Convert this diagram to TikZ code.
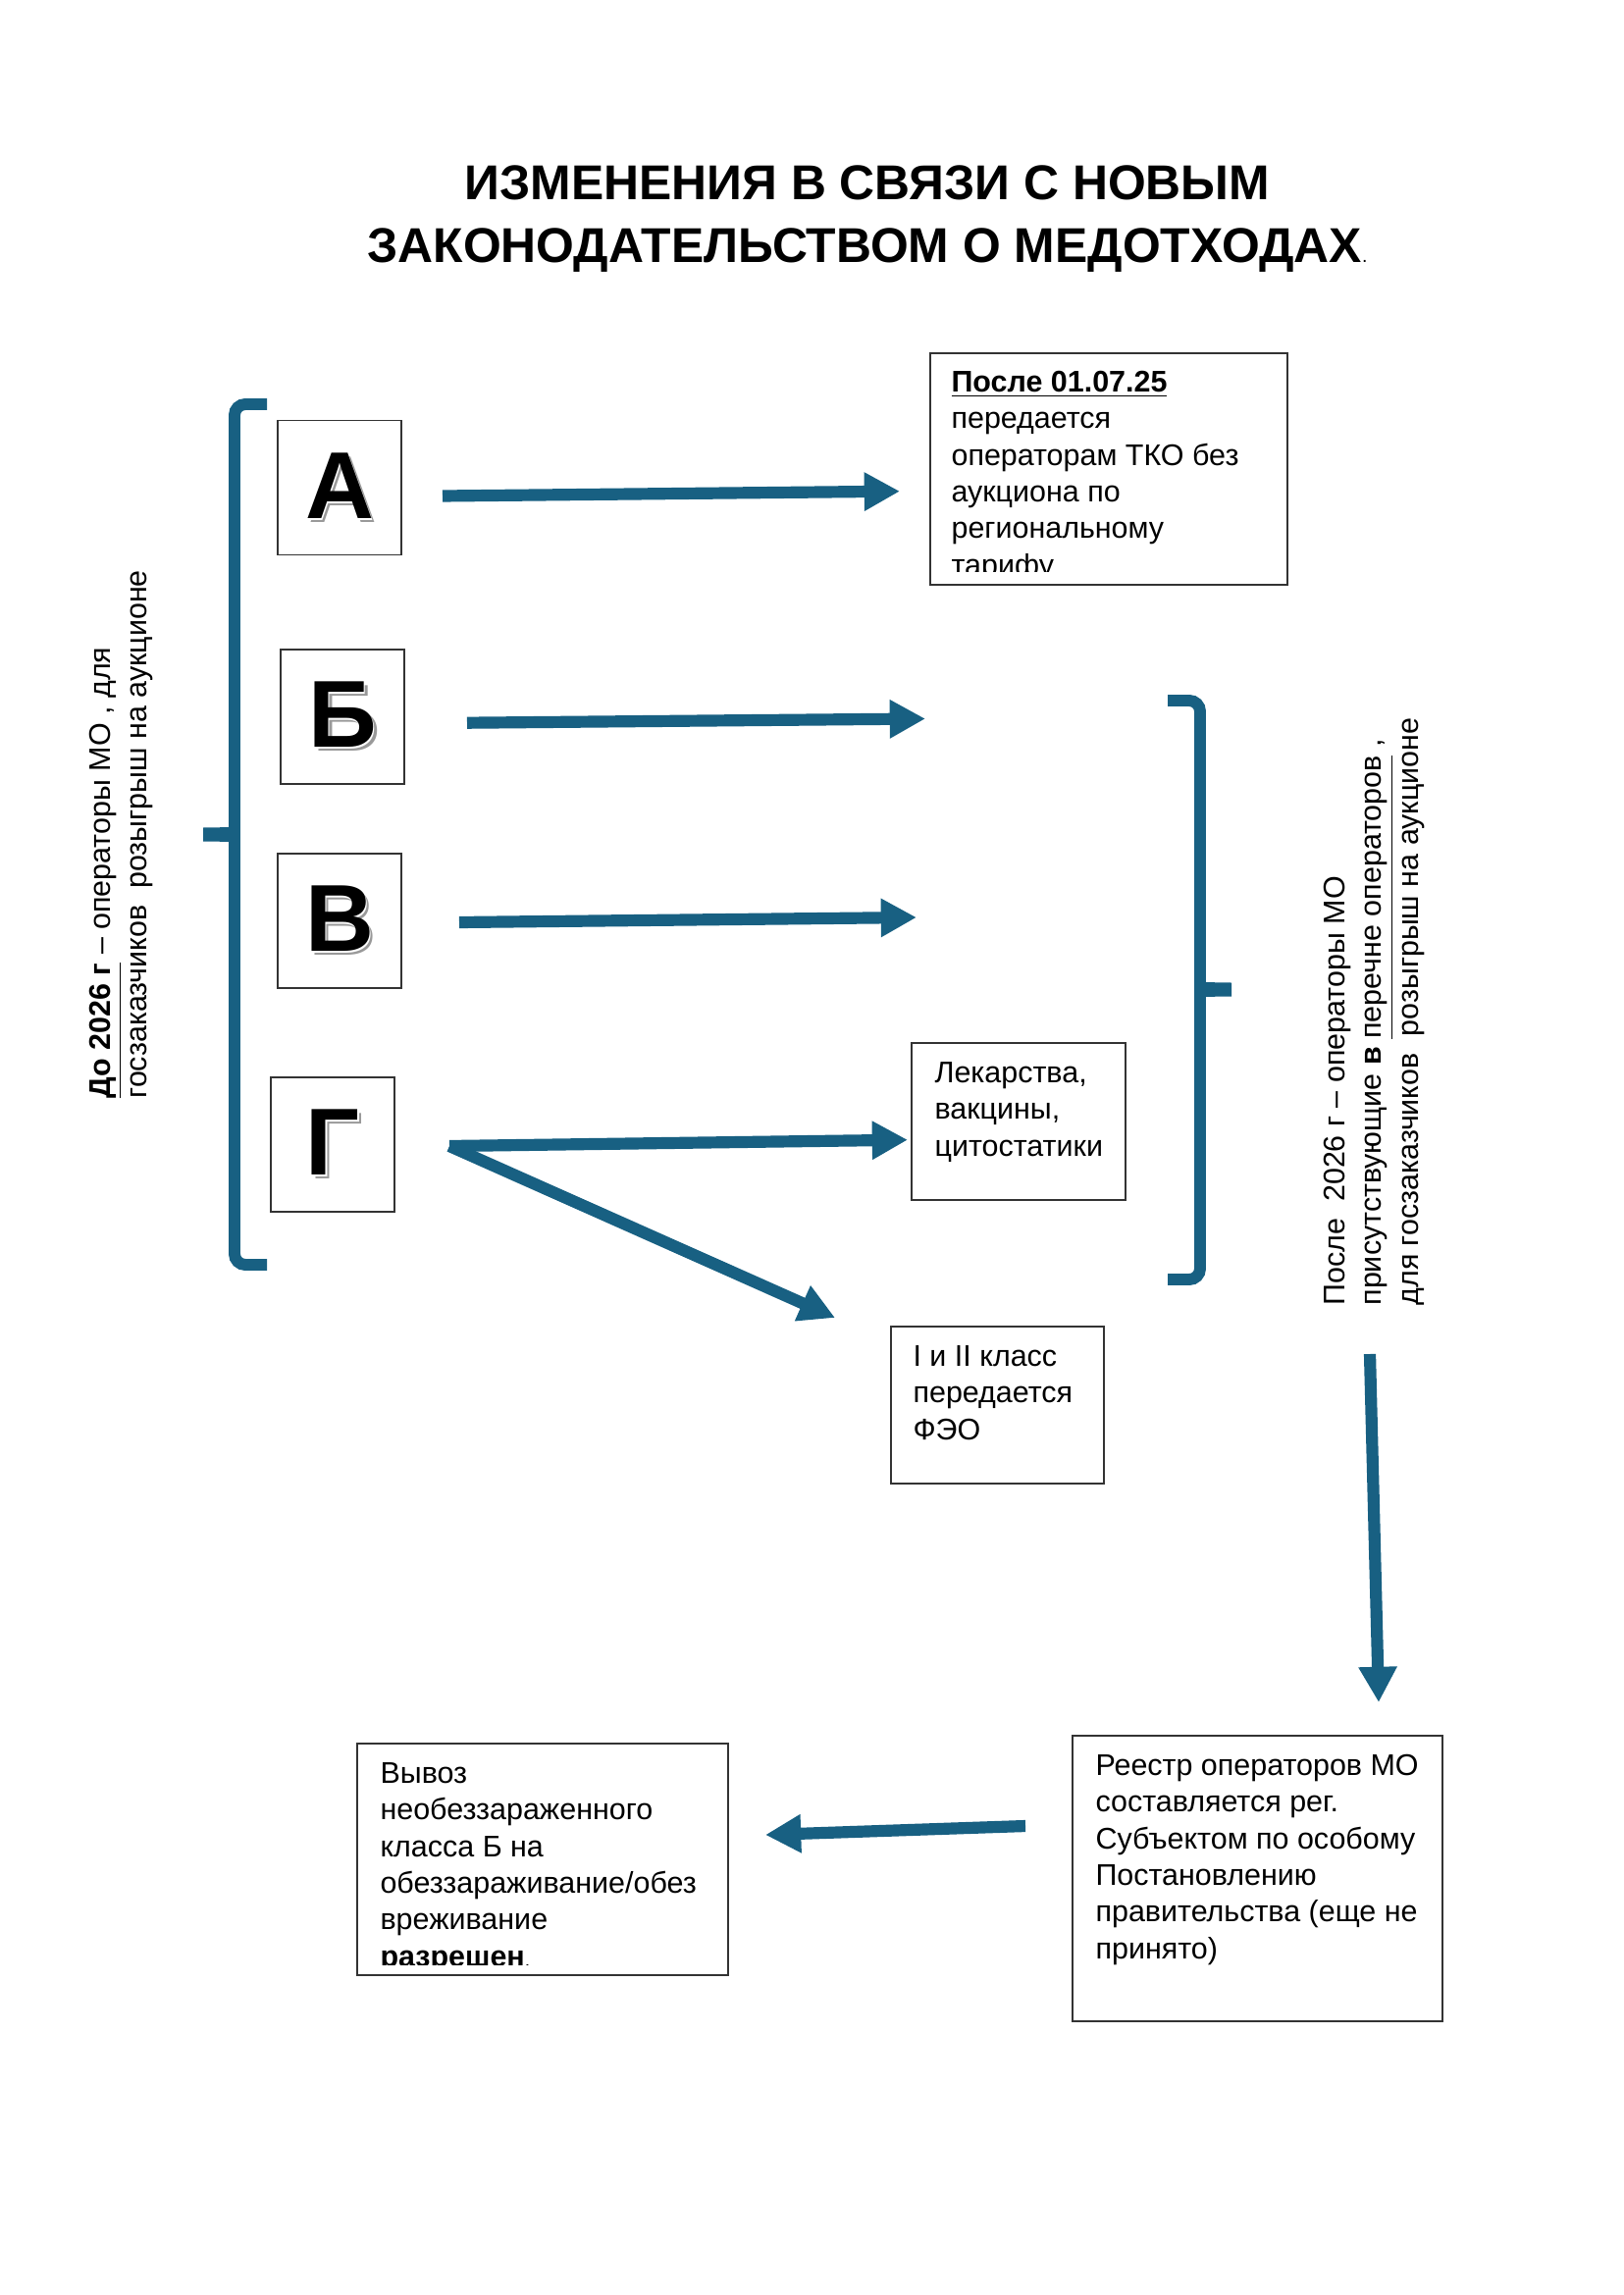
\documentclass[tikz,border=0pt]{standalone}
\usepackage{fontspec}
\setmainfont{Liberation Sans}
\usetikzlibrary{arrows.meta,positioning}

\definecolor{bracecol}{RGB}{24,96,130}
% one pixel of the A4 page
\newcommand\pxs{0.12697mm}
\newcommand\shadowletter[1]{\rlap{\kern1.4pt\raisebox{-1.4pt}{\color{black!40}#1}}\rlap{\kern0.6pt\raisebox{-0.6pt}{\color{white}#1}}#1}

\tikzset{
  letterbox/.style={draw=black!80,line width=0.6pt,inner sep=0pt,minimum width=126*\pxs,minimum height=137*\pxs,font=\fontsize{35}{35}\selectfont\bfseries},
  textbox/.style={draw=black!80,line width=0.6pt,inner sep=0pt},
  boxtext/.style={anchor=north west,inner sep=0pt,align=left,font=\fontsize{11}{13.5}\selectfont},
  bigarrow/.style={draw=bracecol,line width=4.4pt,-{Triangle[length=4.6mm,width=4.7mm]}},
  brace/.style={draw=bracecol,line width=4.3pt,rounded corners=1.4mm},
  cusp/.style={fill=bracecol,draw=none},
}

\begin{document}
\begin{tikzpicture}[x=0.012697cm,y=-0.012697cm]
  \useasboundingbox (0,0) rectangle (1654,2339);

  \node[anchor=north,inner sep=0pt,align=center,font=\fontsize{18}{23}\selectfont\bfseries] (title) at (884,167)
    {\rule{0pt}{13pt}ИЗМЕНЕНИЯ В СВЯЗИ С НОВЫМ\\ЗАКОНОДАТЕЛЬСТВОМ О МЕДОТХОДАХ{\mdseries\fontsize{7}{7}\selectfont.}};

  % letters
  \node[letterbox] (A) at (346,497) {\shadowletter{А}};
  \node[letterbox] (B) at (349,730.5) {\shadowletter{Б}};
  \node[letterbox] (V) at (346,938.5) {\shadowletter{В}};
  \node[letterbox] (G) at (339,1166.5) {\shadowletter{Г}};

  % text boxes
  \node[textbox,minimum width=364*\pxs,minimum height=236*\pxs] (after) at (1130,478) {};
  \node[textbox,minimum width=218*\pxs,minimum height=160*\pxs] (drugs) at (1038,1143) {};
  \node[textbox,minimum width=217*\pxs,minimum height=160*\pxs] (feo) at (1016.5,1432) {};
  \node[textbox,minimum width=378*\pxs,minimum height=236*\pxs] (removal) at (553,1895) {};
  \node[textbox,minimum width=377*\pxs,minimum height=291*\pxs] (registry) at (1281.5,1914.5) {};

  \begin{scope}
    \clip (948,360) rectangle (1312,583);
    \node[boxtext] (aftertext) at (969,374)
      {\rule{0pt}{9pt}\underline{\textbf{После 01.07.25}}\\передается\\операторам ТКО без\\аукциона по\\региональному\\тарифу};
  \end{scope}
  \node[boxtext] (drugstext) at (952,1078) {\rule{0pt}{9pt}Лекарства,\\вакцины,\\цитостатики};
  \node[boxtext] (feotext) at (930,1367) {\rule{0pt}{9pt}I и II класс\\передается\\ФЭО};
  \begin{scope}
    \clip (364,1777) rectangle (742,2002);
    \node[boxtext] (removaltext) at (387,1792)
      {\rule{0pt}{9pt}Вывоз\\необеззараженного\\класса Б на\\обеззараживание/обез\\вреживание\\\textbf{разрешен}{\fontsize{7}{7}\selectfont.}};
  \end{scope}
  \node[boxtext] (registrytext) at (1116,1784)
    {\rule{0pt}{9pt}Реестр операторов МО\\составляется рег.\\Субъектом по особому\\Постановлению\\правительства (еще не\\принято)};

  % side notes
  \node[boxtext,rotate=90] (before) at (87,1120)
    {\rule{0pt}{9pt}\underline{\textbf{До 2026 г}} – операторы МО , для\\госзаказчиков\ \ розыгрыш на аукционе};
  \node[boxtext,rotate=90] (later) at (1345,1331)
    {\rule{0pt}{9pt}После\ \ 2026 г – операторы МО\\присутствующие \textbf{в} \underline{перечне операторов} ,\\для госзаказчиков\ \ розыгрыш на аукционе};

  % braces
  \draw[brace] (272,412) -- (239,412) -- (239,1289) -- (272,1289);
  \fill[cusp] (241,843) to[out=180,in=0] (207,843.5) -- (207,857.5) to[out=0,in=180] (241,858) -- cycle;
  \draw[brace] (1190,714) -- (1223,714) -- (1223,1304) -- (1190,1304);
  \fill[cusp] (1221,1001) to[out=0,in=180] (1255,1001.5) -- (1255,1015.5) to[out=180,in=0] (1221,1016) -- cycle;

  % arrows
  \coordinate (Aout) at (451,505.5);
  \coordinate (Ain) at (917,500.7);
  \coordinate (Bout) at (476,736.7);
  \coordinate (Bin) at (943,732.5);
  \coordinate (Vout) at (468,940);
  \coordinate (Vin) at (934,935);
  \coordinate (Gout) at (458,1168);
  \coordinate (Gin) at (925,1161.7);
  \coordinate (Gdown) at (851,1343);
  \coordinate (laterout) at (1396,1380);
  \coordinate (registryin) at (1405,1735);
  \coordinate (registryout) at (1045,1861);
  \coordinate (removalin) at (780,1870);

  \draw[bigarrow] (Aout) -- (Ain);
  \draw[bigarrow] (Bout) -- (Bin);
  \draw[bigarrow] (Vout) -- (Vin);
  \draw[bigarrow] (Gout) -- (Gin);
  \draw[bigarrow] (Gout) -- (Gdown);
  \draw[bigarrow] (laterout) -- (registryin);
  \draw[bigarrow] (registryout) -- (removalin);
\end{tikzpicture}
\end{document}
